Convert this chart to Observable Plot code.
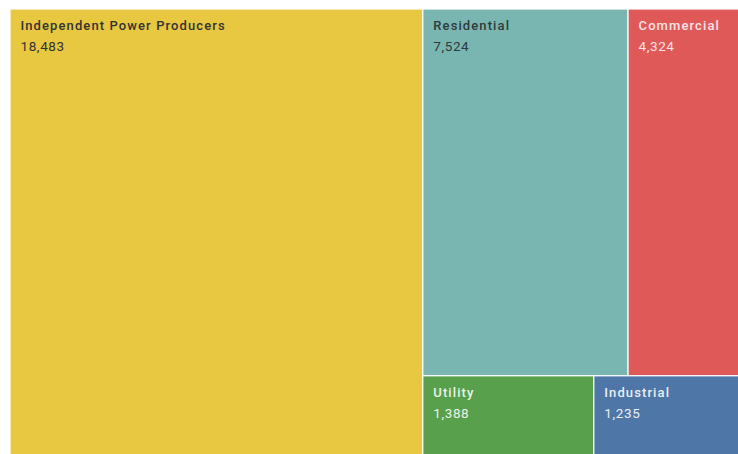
<!DOCTYPE html>
<html>
<head>
<meta charset="utf-8">
<script src="https://cdn.jsdelivr.net/npm/d3@7"></script>
<script src="https://cdn.jsdelivr.net/npm/@observablehq/plot@0.6"></script>
<style>
  html, body { margin: 0; padding: 0; background: #fff; }
  #chart svg { display: block; }
  .lbl-name text { letter-spacing: 1.1px; }
  .lbl-value text { letter-spacing: 0.6px; }
</style>
</head>
<body>
<div id="chart"></div>
<script>
const categories = ["Independent Power Producers", "Residential", "Commercial", "Utility", "Industrial"];
const values = [18483, 7524, 4324, 1388, 1235];
const palette = ["#E8C741", "#7AB6B1", "#E05959", "#58A04C", "#4E76A6"];
const labelColors = ["#333333", "#2e3a3a", "#f6e4e4", "#e9f3e4", "#e8eef6"];

const W = 736, H = 448;
const root = d3.hierarchy({children: categories.map((name, i) => ({name, value: values[i], i}))})
  .sum(d => d.value || 0);
d3.treemap().size([W, H]).tile(d3.treemapSquarify)(root);
const leaves = root.leaves().map(l => ({
  name: l.data.name, value: l.data.value, i: l.data.i,
  x0: l.x0, x1: l.x1, y0: l.y0, y1: l.y1
}));

const fmt = d3.format(",");
const chart = Plot.plot({
  width: 738,
  height: 454,
  margin: 0,
  x: {domain: [0, W], range: [10, 746], axis: null},
  y: {domain: [0, H], range: [9, 457], axis: null},
  color: {domain: categories, range: palette},
  style: {fontFamily: "Roboto, sans-serif"},
  marks: [
    Plot.rect(leaves, {x1: "x0", x2: "x1", y1: "y0", y2: "y1", fill: "name", stroke: "white", strokeWidth: 1.2}),
    Plot.text(leaves, {x: "x0", y: "y0", text: "name", dx: 10, dy: 11, textAnchor: "start", lineAnchor: "top",
      fill: d => labelColors[d.i], fontSize: 13, fontWeight: 500, className: "lbl-name"}),
    Plot.text(leaves, {x: "x0", y: "y0", text: d => fmt(d.value), dx: 10, dy: 32, textAnchor: "start", lineAnchor: "top",
      fill: d => labelColors[d.i], fontSize: 13.5, fontWeight: 400, className: "lbl-value"})
  ]
});
document.getElementById("chart").appendChild(chart);
</script>
</body>
</html>
